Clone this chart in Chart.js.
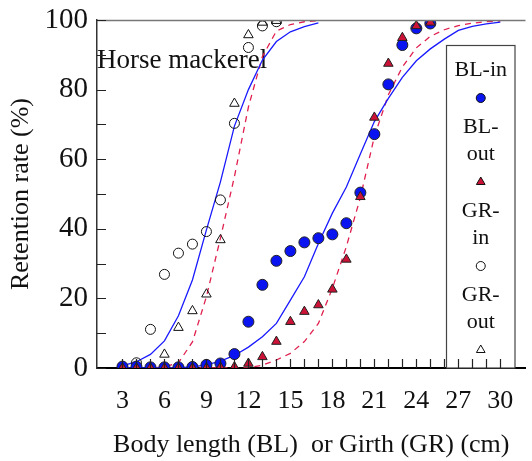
<!DOCTYPE html>
<html>
<head>
<meta charset="utf-8">
<script src="https://cdn.jsdelivr.net/npm/chart.js@4.4.1/dist/chart.umd.min.js"></script>
<style>
html, body { margin: 0; padding: 0; background: #fff; }
</style>
</head>
<body>
<canvas id="chart" width="532" height="461"></canvas>
<script>
// Sizes (cm) where retention was measured
var blSizes = [3,4,5,6,7,8,9,10,11,12,13,14,15,16,17,18,19,20,21,22,23,24,25];
var grSizes = [3,4,5,6,7,8,9,10,11,12,13,14];

// Observed retention rates (%)
var blIn  = [0.4,0.4,0.2,0.2,0.2,0.3,0.9,1.3,4.0,13.3,23.9,30.8,33.6,36.1,37.3,38.4,41.6,50.4,67.2,81.5,92.8,97.6,99.0];
var blOut = [0,0,0,0,0,0,0,0.2,0.3,1.3,3.2,7.6,13.3,16.2,18.1,22.6,31.2,49.2,72.0,87.5,94.9,98.3,99.3];
var grIn  = [0,1.5,11.1,26.9,33.0,35.6,39.2,48.3,70.3,92.1,98.3,99.5];
var grOut = [0,0,0,3.9,11.6,16.4,21.2,36.8,76.0,95.7,99.3,99.8];

var grFitSizes = [3,4,5,6,7,8,9,10,11,12,13,14,15,16,17];
var grInFit  = [0.6,1.8,3.9,7.8,15.0,25.3,39.7,53.5,69.5,80.0,88.5,93.8,96.6,98.1,99.2];
var grOutFit = [0,0,0,0.3,1.5,7.5,20.5,37.3,55.0,75.0,89.5,96.8,98.7,99.5,99.8];
var blFitSizes = [3,4,5,6,7,8,9,10,11,12,13,14,15,16,17,18,19,20,21,22,23,24,25,26,27,28,29,30];
var blInFit  = [0,0,0,0,0.1,0.3,0.9,2.0,3.6,6.0,9.0,12.8,19.5,26.2,35.8,44.5,52.0,61.5,70.8,77.5,83.5,88.3,91.7,94.5,97.0,98.2,98.9,99.4];
var blOutFit = [0,0,0,0,0,0,0,0,0,0.1,0.8,2.3,4.2,7.6,12.8,22.9,34.9,49.0,66.5,78.5,86.5,92.0,95.3,97.2,98.4,99.1,99.5,99.7];

// Axis ticks
var xTickMarks = [3,4,5,6,7,8,9,10,11,12,13,14,15,16,17,18,19,20,21,22,23,24,25,26,27,28,29,30];
var xTickLabels = [3,6,9,12,15,18,21,24,27,30];
var yTickMarks = [0,10,20,30,40,50,60,70,80,90,100];
var yTickLabels = [0,20,40,60,80,100];

var legendLines = [['BL-in'], ['BL-', 'out'], ['GR-', 'in'], ['GR-', 'out']];

var SERIF = "'Liberation Serif', 'Times New Roman', serif";
var BLUE = '#0a14f0';
var RED = '#cc1236';

function pairs(xs, ys) {
    return xs.map(function(x, i) { return {x: x, y: ys[i]}; });
}

// Same shapes as Chart.js uses, for the legend
function drawMark(ctx, style, x, y, r, fill) {
    ctx.beginPath();
    if (style === 'circle') {
        ctx.arc(x, y, r, 0, Math.PI * 2);
    } else {
        var rad = 0;
        ctx.moveTo(x + Math.sin(rad) * r, y - Math.cos(rad) * r);
        rad += Math.PI * 2 / 3;
        ctx.lineTo(x + Math.sin(rad) * r, y - Math.cos(rad) * r);
        rad += Math.PI * 2 / 3;
        ctx.lineTo(x + Math.sin(rad) * r, y - Math.cos(rad) * r);
        ctx.closePath();
    }
    if (fill) { ctx.fillStyle = fill; ctx.fill(); }
    ctx.lineWidth = 1;
    ctx.strokeStyle = '#111';
    ctx.stroke();
}

var extras = {
    id: 'extras',
    beforeDatasetsDraw: function(chart) {
        var ctx = chart.ctx;
        ctx.save();
        ctx.font = '27px ' + SERIF;
        ctx.fillStyle = '#111';
        ctx.textBaseline = 'alphabetic';
        ctx.fillText('Horse mackerel', chart.chartArea.left, 68);
        ctx.restore();
    },
    afterDatasetsDraw: function(chart) {
        var ctx = chart.ctx, a = chart.chartArea;
        var xs = chart.scales.x, ys = chart.scales.y;
        ctx.save();

        // top frame line
        ctx.strokeStyle = '#777';
        ctx.lineWidth = 1.5;
        ctx.beginPath();
        ctx.moveTo(a.left, a.top + 0.5);
        ctx.lineTo(a.right, a.top + 0.5);
        ctx.stroke();

        // legend box
        var bx = 446.5, by = 45.5, bw = 68.5;
        ctx.fillStyle = '#fff';
        ctx.fillRect(bx, by, bw, a.bottom - by);
        ctx.strokeStyle = '#444';
        ctx.lineWidth = 1.2;
        ctx.strokeRect(bx, by, bw, a.bottom - by);

        var marks = [['circle', BLUE], ['triangle', RED], ['circle', null], ['triangle', null]];
        var cx = bx + bw / 2;
        var y = 70;
        ctx.font = '22px ' + SERIF;
        ctx.textAlign = 'center';
        ctx.textBaseline = 'middle';
        for (var i = 0; i < legendLines.length; i++) {
            for (var j = 0; j < legendLines[i].length; j++) {
                ctx.fillStyle = '#111';
                ctx.fillText(legendLines[i][j], cx, y);
                y += 27;
            }
            drawMark(ctx, marks[i][0], cx, y + 1, marks[i][0] === 'circle' ? 4.5 : 5, marks[i][1]);
            y += 30;
        }

        // inward tick marks
        ctx.strokeStyle = '#222';
        ctx.lineWidth = 1.2;
        ctx.beginPath();
        xTickMarks.forEach(function(v) {
            var px = Math.round(xs.getPixelForValue(v)) + 0.5;
            ctx.moveTo(px, a.bottom);
            ctx.lineTo(px, a.bottom - 9);
        });
        yTickMarks.forEach(function(v) {
            var py = Math.round(ys.getPixelForValue(v)) + 0.5;
            ctx.moveTo(a.left, py);
            ctx.lineTo(a.left + 9, py);
        });
        ctx.stroke();
        ctx.restore();
    }
};

Chart.defaults.font.family = SERIF;
Chart.defaults.color = '#111';

var chart = new Chart(document.getElementById('chart'), {
    type: 'scatter',
    data: {
        datasets: [
            { label: 'GR-in fit', data: pairs(grFitSizes, grInFit), showLine: true, pointRadius: 0,
              borderColor: '#1a1aff', borderWidth: 1.3, order: 6 },
            { label: 'GR-out fit', data: pairs(grFitSizes, grOutFit), showLine: true, pointRadius: 0,
              borderColor: '#e0204e', borderWidth: 1.3, borderDash: [6, 5], order: 6 },
            { label: 'BL-in fit', data: pairs(blFitSizes, blInFit), showLine: true, pointRadius: 0,
              borderColor: '#1a1aff', borderWidth: 1.3, order: 5 },
            { label: 'BL-out fit', data: pairs(blFitSizes, blOutFit), showLine: true, pointRadius: 0,
              borderColor: '#e0204e', borderWidth: 1.3, borderDash: [6, 5], order: 5 },
            { label: 'GR-in', data: pairs(grSizes, grIn), pointStyle: 'circle', pointRadius: 5,
              backgroundColor: 'rgba(255,255,255,0)', borderColor: '#111', borderWidth: 1, order: 4 },
            { label: 'GR-out', data: pairs(grSizes, grOut), pointStyle: 'triangle', pointRadius: 5.5,
              backgroundColor: 'rgba(255,255,255,0)', borderColor: '#111', borderWidth: 1, order: 3 },
            { label: 'BL-in', data: pairs(blSizes, blIn), pointStyle: 'circle', pointRadius: 5.5,
              backgroundColor: BLUE, borderColor: '#222', borderWidth: 1, order: 2 },
            { label: 'BL-out', data: pairs(blSizes, blOut), pointStyle: 'triangle', pointRadius: 5.5,
              backgroundColor: RED, borderColor: '#222', borderWidth: 1, order: 1 }
        ]
    },
    options: {
        responsive: false,
        animation: false,
        devicePixelRatio: 1,
        layout: { padding: { top: 20, right: 0, bottom: 0, left: 0 } },
        plugins: { legend: { display: false }, tooltip: { enabled: false } },
        scales: {
            x: {
                type: 'linear',
                min: 1.18,
                max: 31.8,
                afterBuildTicks: function(scale) {
                    scale.ticks = xTickLabels.map(function(v) { return {value: v}; });
                },
                afterFit: function(scale) {
                    scale.height = 93;
                    scale.paddingLeft = 0;
                    scale.paddingRight = 0;
                },
                grid: { display: false, drawTicks: false },
                border: { display: true, color: '#000', width: 2 },
                ticks: { autoSkip: false, maxRotation: 0, padding: 18, color: '#111',
                         font: { size: 26, family: SERIF } },
                title: { display: true, text: 'Body length (BL)  or Girth (GR) (cm)', color: '#111',
                         font: { size: 26, family: SERIF }, padding: { top: 0, bottom: 0 } }
            },
            y: {
                min: 0,
                max: 100,
                afterBuildTicks: function(scale) {
                    scale.ticks = yTickLabels.map(function(v) { return {value: v}; });
                },
                afterFit: function(scale) {
                    scale.width = 97;
                    scale.paddingTop = 0;
                    scale.paddingBottom = 0;
                },
                grid: { display: false, drawTicks: false },
                border: { display: true, color: '#333', width: 1.5 },
                ticks: { padding: 9, color: '#111', font: { size: 29, family: SERIF, lineHeight: 1 } },
                title: { display: true, text: 'Retention rate (%)', color: '#111',
                         font: { size: 26, family: SERIF }, padding: { top: 6, bottom: 0 } }
            }
        }
    },
    plugins: [extras]
});
</script>
</body>
</html>
